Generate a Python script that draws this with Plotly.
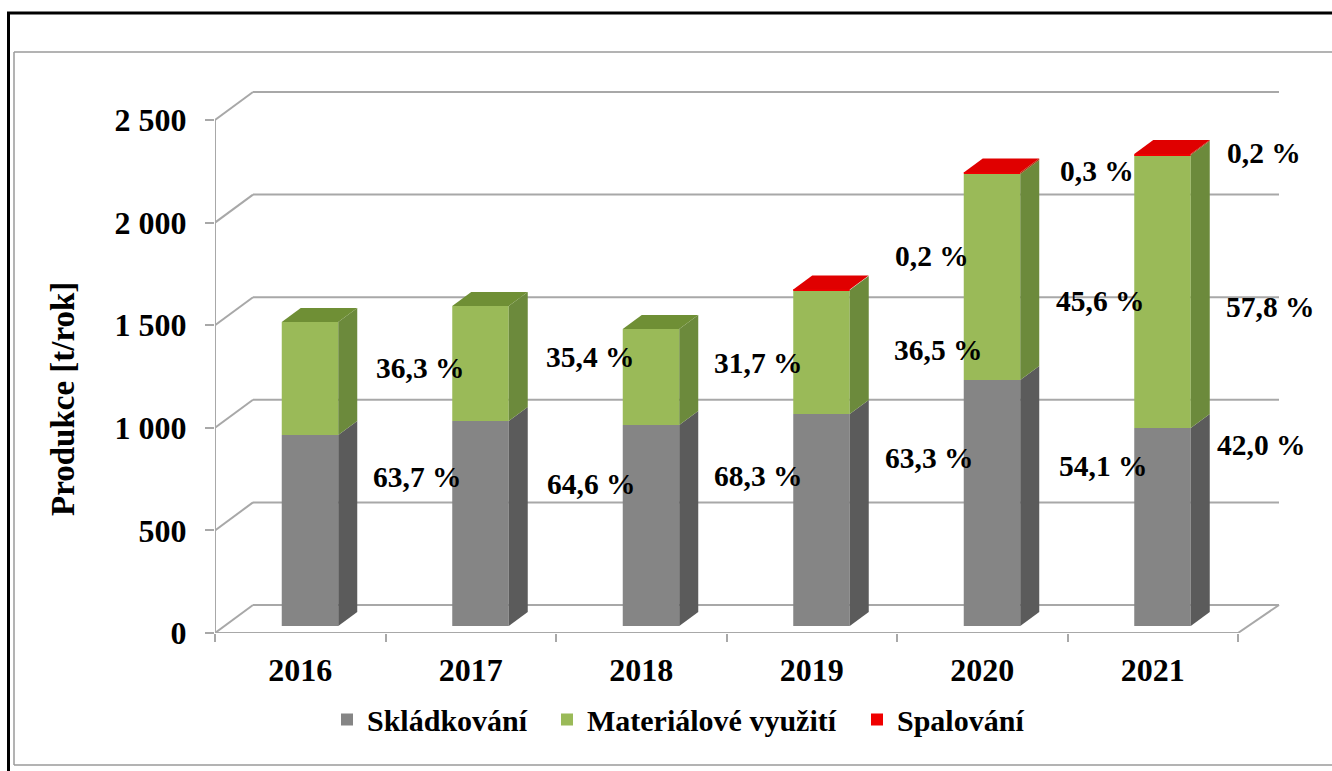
import plotly.graph_objects as go

# ---- data ----
years = ["2016", "2017", "2018", "2019", "2020", "2021"]
skladkovani = [931, 999, 980, 1033, 1199, 965]
materialove = [550, 560, 467, 604, 1004, 1330]
spalovani = [0, 0, 0, 3.3, 6.6, 4.6]
series_names = ["Skládkování", "Materiálové využití", "Spalování"]
y_ticks = [0, 500, 1000, 1500, 2000, 2500]
y_tick_text = ["0", "500", "1 000", "1 500", "2 000", "2 500"]
labels_skladkovani = ["63,7 %", "64,6 %", "68,3 %", "63,3 %", "54,1 %", "42,0 %"]
labels_materialove = ["36,3 %", "35,4 %", "31,7 %", "36,5 %", "45,6 %", "57,8 %"]
labels_spalovani = ["0,2 %", "0,3 %", "0,2 %"]

# ---- layout (pixels) ----
W, H = 1332, 771
MB = 45  # bottom margin kept for the legend, so plotly does not rescale the plot area
PH = H - MB
X_LEFT, X_RIGHT, Y_BOTTOM, Y_TOP = 215, 1300, 633, 70
CAT_PX = 170.5
VAL_PX = 0.2052
FONT = "Liberation Serif"
GRID = "#a8a8a8"
FRONT = ["#858585", "#9aba58", "#f00000"]
SIDE = ["#5b5b5b", "#6c8a3c", "#a83a10"]
TOP = ["#6a6a6a", "#6f8f35", "#e00000"]
LEGEND_X = [327, 547, 857]
LEGEND_IDS = ["legend", "legend2", "legend3"]

dxpx = lambda p: p / CAT_PX
dypx = lambda p: p / VAL_PX
px_x = lambda p: -0.5 + (p - X_LEFT) / CAT_PX
px_y = lambda p: (Y_BOTTOM - p) / VAL_PX
paper_y = lambda p: 1 - p / PH

WALL_DX, WALL_DY = dxpx(38), dypx(28)
BAR_DX, BAR_BASE = dxpx(9.75), dypx(7)
BAR_W = dxpx(56.5)
SIDE_DX, SIDE_DY = dxpx(19), dypx(14)
n = len(years)

fig = go.Figure()

stack = [skladkovani, materialove, spalovani]
bases = []
cum = [BAR_BASE] * n
for s in stack:
    bases.append(list(cum))
    cum = [c + v for c, v in zip(cum, s)]

for k, s in enumerate(stack):
    fig.add_trace(go.Bar(
        x=[i + BAR_DX for i in range(n)], y=s, base=bases[k], width=BAR_W,
        name=series_names[k], marker=dict(color=FRONT[k], line=dict(width=0)),
        hoverinfo="y+name", legend=LEGEND_IDS[k],
    ))

for k, s in enumerate(stack):
    for i in range(n):
        if s[i] <= 0:
            continue
        xr = i + BAR_DX + BAR_W / 2
        b, t = bases[k][i], bases[k][i] + s[i]
        fig.add_trace(go.Scatter(
            x=[xr, xr + SIDE_DX, xr + SIDE_DX, xr, xr],
            y=[b, b + SIDE_DY, t + SIDE_DY, t, b],
            mode="lines", fill="toself", fillcolor=SIDE[k],
            line=dict(width=0, color=SIDE[k]), showlegend=False, hoverinfo="skip",
        ))
for i in range(n):
    k = max(j for j in range(3) if stack[j][i] > 0)
    t = bases[k][i] + stack[k][i]
    xl, xr = i + BAR_DX - BAR_W / 2, i + BAR_DX + BAR_W / 2
    fig.add_trace(go.Scatter(
        x=[xl, xr, xr + SIDE_DX, xl + SIDE_DX, xl],
        y=[t, t, t + SIDE_DY, t + SIDE_DY, t],
        mode="lines", fill="toself", fillcolor=TOP[k],
        line=dict(width=0, color=TOP[k]), showlegend=False, hoverinfo="skip",
    ))

shapes = []
line = dict(color=GRID, width=2)
x0, x1 = -0.5, n - 0.5
for v in y_ticks:
    shapes.append(dict(type="line", xref="x", yref="y", layer="below", line=line,
                       x0=x0, y0=v, x1=x0 + WALL_DX, y1=v + WALL_DY))
    shapes.append(dict(type="line", xref="x", yref="y", layer="below", line=line,
                       x0=x0 + WALL_DX, y0=v + WALL_DY, x1=x1 + WALL_DX + dxpx(3), y1=v + WALL_DY))
shapes.append(dict(type="line", xref="x", yref="y", layer="below", line=line,
                   x0=x0, y0=0, x1=x0, y1=y_ticks[-1]))
shapes.append(dict(type="line", xref="x", yref="y", layer="below", line=line,
                   x0=x0, y0=0, x1=x1, y1=0))
shapes.append(dict(type="line", xref="x", yref="y", layer="below", line=line,
                   x0=x1, y0=0, x1=x1 + WALL_DX + dxpx(3), y1=WALL_DY))

shapes.append(dict(type="line", xref="paper", yref="paper", layer="below",
                   line=dict(color="#000000", width=3), x0=8.5 / W, x1=8.5 / W, y0=paper_y(H), y1=paper_y(13)))
shapes.append(dict(type="line", xref="paper", yref="paper", layer="below",
                   line=dict(color="#000000", width=3), x0=7 / W, x1=1, y0=paper_y(13), y1=paper_y(13)))
for (a, b, c, d) in [(14, 52, 14, 765), (14, 52, W, 52), (14, 765, W, 765)]:
    shapes.append(dict(type="line", xref="paper", yref="paper", layer="below",
                       line=dict(color="#9a9a9a", width=1.5),
                       x0=a / W, x1=c / W, y0=paper_y(b), y1=paper_y(d)))

pos_skl = [(417, 477), (591, 484), (758, 476), (929, 458), (1103, 466), (1261, 445)]
pos_mat = [(420, 368), (590, 357), (758, 363), (938, 350), (1100, 301), (1270, 307)]
pos_spa = [(932, 256), (1097, 171), (1264, 153)]
annotations = []
for texts, positions in [(labels_skladkovani, pos_skl), (labels_materialove, pos_mat), (labels_spalovani, pos_spa)]:
    for t, (px, py) in zip(texts, positions):
        annotations.append(dict(x=px_x(px), y=px_y(py), xref="x", yref="y", text=t, showarrow=False,
                                font=dict(family=FONT, size=29.5, color="#000000", weight=700)))
annotations.append(dict(x=63 / W, y=paper_y(399), xref="paper", yref="paper", xanchor="center", yanchor="middle",
                        text="Produkce [t/rok]", textangle=-90, showarrow=False,
                        font=dict(family=FONT, size=33, color="#000000", weight=700)))

layout_legends = {
    lid: dict(orientation="h", x=lx / W, y=paper_y(719.5), xanchor="left", yanchor="middle",
              font=dict(family=FONT, size=30, weight=700), bgcolor="rgba(0,0,0,0)")
    for lid, lx in zip(LEGEND_IDS, LEGEND_X)
}

fig.update_layout(
    width=W, height=H, margin=dict(l=0, r=0, t=0, b=MB), autosize=False,
    paper_bgcolor="#ffffff", plot_bgcolor="rgba(0,0,0,0)", barmode="overlay",
    font=dict(family=FONT, color="#000000"),
    shapes=shapes, annotations=annotations,
    xaxis=dict(domain=[X_LEFT / W, X_RIGHT / W], range=[-0.5, -0.5 + (X_RIGHT - X_LEFT) / CAT_PX],
               tickmode="array", tickvals=list(range(n)), ticktext=years, ticks="", showgrid=False,
               zeroline=False, showline=False, tickfont=dict(family=FONT, size=32, weight=700), ticklabelstandoff=15,
               minor=dict(tickmode="array", tickvals=[i - 0.5 for i in range(n + 1)], ticks="outside",
                          ticklen=8, tickwidth=2, tickcolor=GRID, showgrid=False)),
    yaxis=dict(domain=[paper_y(Y_BOTTOM), paper_y(Y_TOP)], range=[0, (Y_BOTTOM - Y_TOP) / VAL_PX],
               tickmode="array", tickvals=y_ticks, ticktext=y_tick_text, ticks="outside", ticklen=9,
               tickwidth=2, tickcolor=GRID, showgrid=False, zeroline=False, showline=False,
               tickfont=dict(family=FONT, size=32, weight=700), ticklabelstandoff=12),
    **layout_legends,
)

fig.write_html("out.html", config=dict(displayModeBar=False),
               post_script="document.body.style.margin='0';document.body.style.overflow='hidden';")
